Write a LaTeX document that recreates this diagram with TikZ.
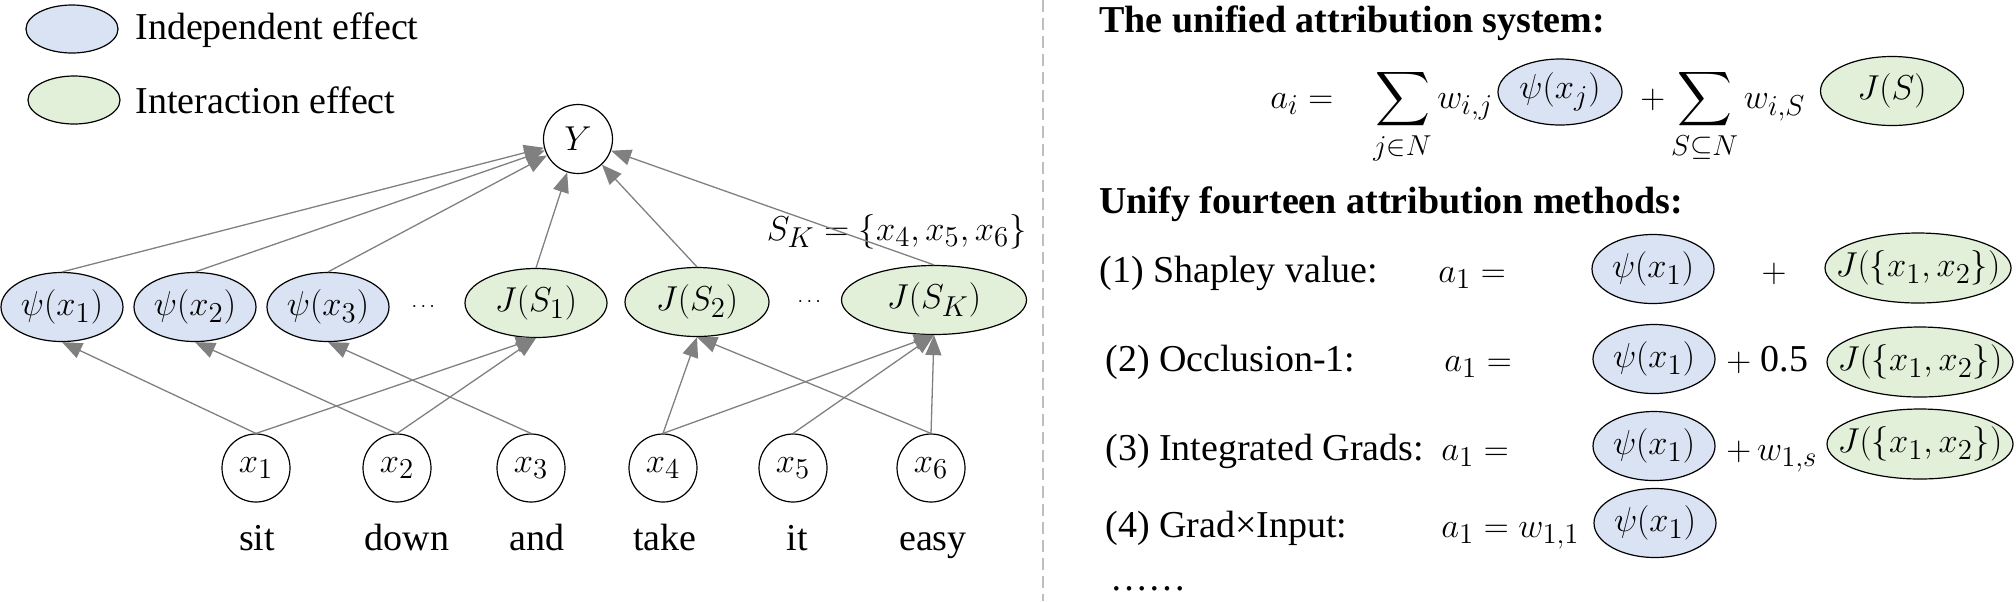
\documentclass[tikz,border=0pt]{standalone}
\usepackage{amsmath}
\usepackage{amssymb}
\usepackage{fontspec}
\setmainfont{Liberation Serif}
\usetikzlibrary{shapes.geometric,arrows.meta,positioning}
\definecolor{indepblue}{RGB}{218,227,243}
\definecolor{intergreen}{RGB}{226,240,217}
\definecolor{edgegray}{RGB}{128,128,128}
\definecolor{divgray}{RGB}{190,190,190}
\newcommand{\inell}[1]{\makebox[0pt]{#1}}
\tikzset{
  every node/.style={font=\fontsize{19}{23}\selectfont},
  txt/.style={inner sep=0pt},
  effect/.style={ellipse,draw,line width=0.6pt,inner sep=0pt,minimum width=61pt,minimum height=34.5pt},
  indep/.style={effect,fill=indepblue},
  inter/.style={effect,fill=intergreen},
  var/.style={circle,draw,line width=0.6pt,inner sep=0pt,minimum size=34pt},
  flow/.style={draw=edgegray,line width=0.65pt,-{Triangle[length=10pt,width=8pt]}},
  smalldots/.style={inner sep=0pt,font=\fontsize{10}{12}\selectfont}
}

\begin{document}
\begin{tikzpicture}[x=0.5pt,y=-0.5pt]
  \useasboundingbox (0,0) rectangle (2016,601);
  % legend
  \node[indep,minimum width=46pt,minimum height=24pt] (legI) at (72,29) {};
  \node[txt,anchor=base west] (legItxt) at (135,39) {Independent effect};
  \node[inter,minimum width=46pt,minimum height=24pt] (legJ) at (74,100) {};
  \node[txt,anchor=base west] (legJtxt) at (135,113) {Interaction effect};

  % output and effects
  \node[var,minimum size=34.5pt] (Y) at (578,139) {$Y$};
  \foreach \i/\x in {1/62,2/195,3/328}
    \node[indep] (psi\i) at (\x,307) {\inell{$\psi(x_{\i})$}};
  \node[smalldots] (dotsA) at (425,307) {$\cdots$};
  \node[inter,minimum width=71pt] (J1) at (536,303) {\inell{$J(S_1)$}};
  \node[inter,minimum width=72pt] (J2) at (697,302) {\inell{$J(S_2)$}};
  \node[smalldots] (dotsB) at (811,302) {$\cdots$};
  \node[inter,minimum width=92.5pt] (JK) at (934,300) {\inell{$J(S_K)$}};
  \node[txt,anchor=base east] (SK) at (1027,240) {$S_K=\{x_4,x_5,x_6\}$};

  % input words
  \foreach \i/\x/\wx/\w in {1/256/257/sit,2/397/407/down,3/531/537/and,4/663/665/take,5/793/797/it,6/931/933/easy}{
    \node[var] (x\i) at (\x,468) {$x_{\i}$};
    \node[txt,anchor=base] (word\i) at (\wx,550) {\w};
  }

  \foreach \s in {psi1,psi2,psi3,J1,J2,JK}
    \draw[flow] (\s.north) -- (Y);
  \foreach \a/\b in {x1/psi1,x2/psi2,x3/psi3,x1/J1,x2/J1,x4/J2,x6/J2,x4/JK,x5/JK,x6/JK}
    \draw[flow] (\a.north) -- (\b.south);

  % divider
  \coordinate (divtop) at (1043,0);
  \coordinate (divbot) at (1043,601);
  \draw[divgray,line width=0.6pt,dash pattern=on 6pt off 3pt] (divtop) -- (divbot);

  % unified system
  \node[txt,anchor=base west,font=\fontsize{19}{23}\selectfont\bfseries] (sysT) at (1099,32) {The unified attribution system:};
  \node[txt,anchor=base west] (eqA) at (1270,108) {$a_i =$};
  \node[txt,anchor=base west] (eqS1) at (1373,108) {$\displaystyle\sum_{j\in N} w_{i,j}$};
  \node[indep,minimum width=62pt,minimum height=33pt] (eqpsi) at (1560,92) {\inell{$\psi(x_j)$}};
  \node[txt,anchor=base west] (eqS2) at (1640,108) {$+\displaystyle\sum_{S\subseteq N} w_{i,S}$};
  \node[inter,minimum width=71.5pt] (eqJ) at (1892,91) {\inell{$J(S)$}};

  % fourteen methods
  \node[txt,anchor=base west,font=\fontsize{19}{23}\selectfont\bfseries] (uniT) at (1099,213) {Unify fourteen attribution methods:};
  \node[txt,anchor=base west] (m1) at (1099,282) {(1) Shapley value:};
  \node[txt,anchor=base west] (m1a) at (1438,282) {$a_1 =$};
  \node[indep] (m1psi) at (1653,269) {\inell{$\psi(x_1)$}};
  \node[txt,anchor=base] (m1op) at (1774,282) {$+$};
  \node[inter,minimum width=93pt,minimum height=35pt] (m1J) at (1918,268) {\inell{$J(\{x_1,x_2\})$}};

  \node[txt,anchor=base west] (m2) at (1105,371) {(2) Occlusion-1:};
  \node[txt,anchor=base west] (m2a) at (1444,371) {$a_1 =$};
  \node[indep] (m2psi) at (1654,359) {\inell{$\psi(x_1)$}};
  \node[txt,anchor=base west] (m2op) at (1726,371) {$+$ 0.5};
  \node[inter,minimum width=93pt,minimum height=35pt] (m2J) at (1920,362) {\inell{$J(\{x_1,x_2\})$}};

  \node[txt,anchor=base west] (m3) at (1105,460) {(3) Integrated Grads:};
  \node[txt,anchor=base west] (m3a) at (1441,460) {$a_1 =$};
  \node[indep] (m3psi) at (1654,446) {\inell{$\psi(x_1)$}};
  \node[txt,anchor=base west] (m3op) at (1726,460) {$+\,w_{1,s}$};
  \node[inter,minimum width=93pt,minimum height=35pt] (m3J) at (1920,444) {\inell{$J(\{x_1,x_2\})$}};

  \node[txt,anchor=base west] (m4) at (1105,537) {(4) Grad×Input:};
  \node[txt,anchor=base west] (m4a) at (1441,537) {$a_1 = w_{1,1}$};
  \node[indep] (m4psi) at (1655,523) {\inell{$\psi(x_1)$}};

  \node[txt,anchor=base west] (more) at (1110,590) {……};
\end{tikzpicture}
\end{document}
